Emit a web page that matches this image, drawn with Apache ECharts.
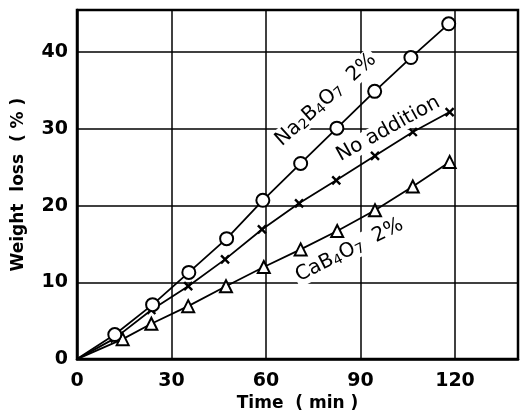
<!DOCTYPE html>
<html><head><meta charset="utf-8">
<script src="https://cdn.jsdelivr.net/npm/echarts@6/dist/echarts.min.js"></script>
<style>html,body{margin:0;padding:0;background:#fff}#c{width:521px;height:417px}</style>
</head><body><div id="c"></div>
<script>
const timeNa = [12, 24, 35.5, 47.5, 59, 71, 82.5, 94.5, 106, 118];
const na2b4o7 = [3.2, 7.1, 11.3, 15.7, 20.7, 25.5, 30.1, 34.9, 39.3, 43.7];
const timeNo = [12, 23.6, 35.3, 47, 58.7, 70.5, 82.3, 94.6, 106.6, 118.3];
const noAddition = [2.7, 6.4, 9.5, 13.0, 16.9, 20.3, 23.3, 26.5, 29.6, 32.2];
const timeCa = [14.5, 23.6, 35.3, 47.3, 59.3, 71, 82.6, 94.6, 106.6, 118.3];
const cab4o7 = [2.6, 4.6, 6.9, 9.5, 12.0, 14.3, 16.7, 19.4, 22.5, 25.7];
const xTicks = [0, 30, 60, 90, 120];
const yTicks = [0, 10, 20, 30, 40];

const font = 'DejaVu Sans';
function build(xs, ys){
  return [{value:[0,0], symbol:'none'}].concat(xs.map((x,i)=>[x, ys[i]]));
}
const chart = echarts.init(document.getElementById('c'));
const lineStyle = {color:'#000', width:1.8};
chart.setOption({
  animation:false,
  backgroundColor:'#fff',
  grid:{left:77, right:2, top:10, bottom:54, show:true, borderColor:'#000', borderWidth:2.5},
  xAxis:{type:'value', min:0, max:140, interval:30,
    axisLine:{show:true, lineStyle:{color:'#000', width:2.5}},
    axisTick:{show:false},
    splitLine:{show:true, lineStyle:{color:'#000', width:1.5}},
    axisLabel:{color:'#000', fontFamily:font, fontSize:19, fontWeight:'bold', margin:12,
      formatter:v=>xTicks.includes(v)?String(v):''},
    name:'Time  ( min )', nameLocation:'middle', nameGap:35,
    nameTextStyle:{color:'#000', fontFamily:font, fontSize:17, fontWeight:'bold'}
  },
  yAxis:{type:'value', min:0, max:45.5, interval:10,
    axisLine:{show:true, lineStyle:{color:'#000', width:2.5}},
    axisTick:{show:false},
    splitLine:{show:true, lineStyle:{color:'#000', width:1.5}},
    axisLabel:{color:'#000', fontFamily:font, fontSize:19, fontWeight:'bold', margin:9, showMaxLabel:false,
      formatter:v=>yTicks.includes(v)?String(v):''},
    name:'Weight  loss  ( % )', nameLocation:'middle', nameGap:50,
    nameTextStyle:{color:'#000', fontFamily:font, fontSize:17, fontWeight:'bold'}
  },
  series:[
    {type:'line', data:build(timeNa, na2b4o7), symbol:'emptyCircle', symbolSize:13,
      lineStyle, itemStyle:{color:'#000', borderColor:'#000', borderWidth:2}, z:5},
    {type:'line', data:build(timeNo, noAddition),
      symbol:'path://M0,0L10,10M10,0L0,10', symbolSize:8,
      lineStyle, itemStyle:{color:'#000', borderColor:'#000', borderWidth:2.4}, z:4},
    {type:'line', data:build(timeCa, cab4o7), symbol:'emptyTriangle', symbolSize:12,
      lineStyle, itemStyle:{color:'#000', borderColor:'#000', borderWidth:2}, z:3}
  ]
});
const labels = [
  {at:[79.0, 33.8], rot:42, text:'Na{s|2}B{s|4}O{s|7}  2%'},
  {at:[98.8, 30.0], rot:29, text:'No addition'},
  {at:[86.5, 14.2], rot:27, text:'CaB{s|4}O{s|7}  2%'}
];
chart.setOption({graphic: labels.map(l=>{
  const p = chart.convertToPixel({gridIndex:0}, l.at);
  return {type:'text', x:p[0], y:p[1], rotation:l.rot*Math.PI/180, z:10,
    style:{text:l.text, fill:'#000', font:'20px "DejaVu Sans"', align:'center', verticalAlign:'middle',
      backgroundColor:'#fff', padding:[0,2],
      rich:{s:{fontSize:14, fontFamily:font, verticalAlign:'bottom', padding:[8,0,0,0], backgroundColor:'#fff'}}}};
})});
</script></body></html>
